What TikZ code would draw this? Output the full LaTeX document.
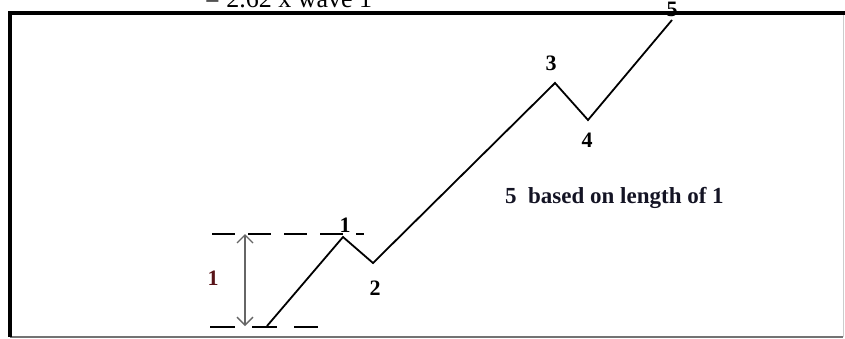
\documentclass[tikz,border=0pt]{standalone}
\usepackage{fontspec}
\setmainfont{Liberation Serif}
\usetikzlibrary{arrows.meta}
\definecolor{maroonish}{rgb}{0.35,0.08,0.1}
\definecolor{inkblue}{rgb}{0.08,0.08,0.14}
\begin{document}
\begin{tikzpicture}[x=1pt,y=-1pt,
  wave/.style={line width=1.8pt, black, line join=miter},
  lbl/.style={font=\fontsize{22}{22}\selectfont\bfseries, inner sep=0pt},
  guide/.style={line width=1.6pt, black, dash pattern=on 23pt off 13pt},
  frametop/.style={line width=3.5pt, black},
  framebot/.style={line width=1.5pt, black!55},
  frameright/.style={line width=1pt, black!20},
  measure/.style={line width=1.4pt, black!60, {Straight Barb[length=8pt,width=16pt]}-{Straight Barb[length=8pt,width=16pt]}}]
\useasboundingbox (0,0) rectangle (845,338);
\clip (0,0) rectangle (845,338);
\fill[white] (0,0) rectangle (845,338);

% frame
\coordinate (fTL) at (10,13);
\coordinate (fTR) at (845,13);
\coordinate (fBL) at (10,337);
\coordinate (fBR) at (843,337);
\coordinate (fRT) at (843,13);
\draw[framebot] (fBL) -- (fBR);
\draw[frameright] (fRT) -- (fBR);
\draw[frametop] (fBL) -- (fTL) -- (fTR);

% top caption (cut off by the picture's top edge, as in the reference)
\node[anchor=base west, inner sep=0pt, font=\fontsize{26}{26}\selectfont] (cap) at (205,7) {= 2.62 x wave 1};

% wave points
\coordinate (w0) at (267,326);
\coordinate (w1) at (343,237);
\coordinate (w2) at (373,263);
\coordinate (w3) at (555,83);
\coordinate (w4) at (588,120);
\coordinate (w5) at (672,20);
\draw[wave] (w0) -- (w1) -- (w2) -- (w3) -- (w4) -- (w5);

% guides
\coordinate (gTa) at (212,234);
\coordinate (gTb) at (364,234);
\coordinate (gBa) at (210,327);
\coordinate (gBb) at (318,327);
\draw[guide] (gTa) -- (gTb);
\draw[guide, dash pattern=on 25pt off 17pt] (gBa) -- (gBb);

% measure arrow
\coordinate (mT) at (245,234);
\coordinate (mB) at (245,326);
\draw[measure] (mT) -- (mB);
\node[lbl, text=maroonish] (m1) at (213,278) {1};

% wave labels
\node[lbl] (l1) at (345,225) {1};
\node[lbl] (l2) at (375,288) {2};
\node[lbl] (l3) at (551,63) {3};
\node[lbl] (l4) at (587,140) {4};
\node[lbl] (l5) at (672,9) {5};

\node[anchor=west, inner sep=0pt, text=inkblue, font=\fontsize{23}{23}\selectfont\bfseries] (note) at (505,198) {5\ \ based on length of 1};
\end{tikzpicture}
\end{document}
